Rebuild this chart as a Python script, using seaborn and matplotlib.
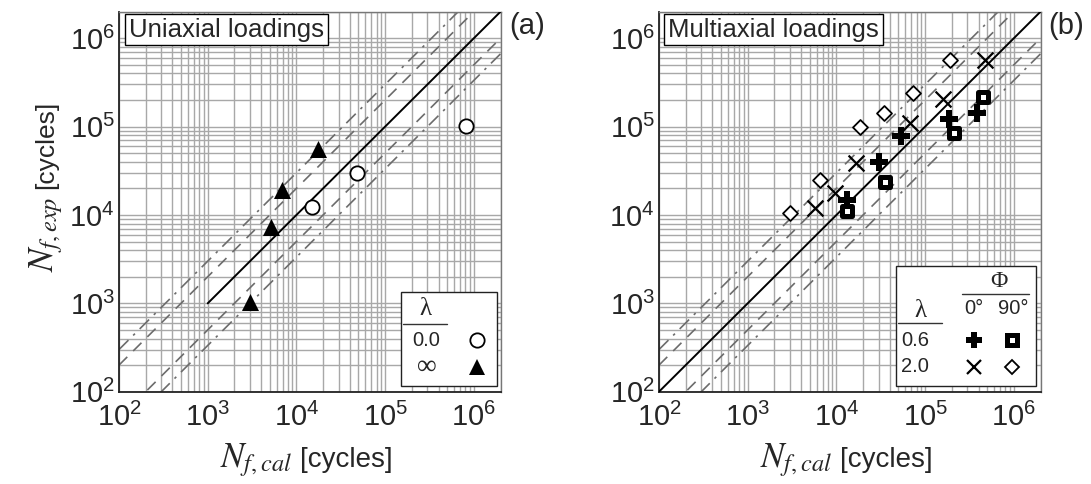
import numpy as np
import matplotlib
matplotlib.use("Agg")
import matplotlib.pyplot as plt
import seaborn as sns
from matplotlib.patches import Rectangle
from matplotlib.lines import Line2D
from matplotlib.ticker import LogLocator, NullFormatter

# ---------------- data ----------------
uni_lam0_cal = [1.5e4, 4.8e4, 8.2e5]
uni_lam0_exp = [1.23e4, 2.97e4, 1.02e5]
uni_laminf_cal = [3.0e3, 5.15e3, 6.9e3, 1.77e4]
uni_laminf_exp = [1.04e3, 7.3e3, 1.9e4, 5.6e4]

multi_l06_p0_cal = [1.30e4, 2.99e4, 5.35e4, 1.84e5, 3.85e5]
multi_l06_p0_exp = [1.48e4, 3.96e4, 7.9e4, 1.22e5, 1.42e5]
multi_l06_p90_cal = [1.33e4, 3.56e4, 2.14e5, 4.46e5]
multi_l06_p90_exp = [1.11e4, 2.35e4, 8.4e4, 2.14e5]
multi_l20_p0_cal = [5.8e3, 9.7e3, 1.67e4, 6.7e4, 1.59e5, 4.78e5]
multi_l20_p0_exp = [1.19e4, 1.77e4, 3.86e4, 1.09e5, 2.06e5, 5.7e5]
multi_l20_p90_cal = [3.0e3, 6.6e3, 1.86e4, 3.4e4, 7.4e4, 1.89e5]
multi_l20_p90_exp = [1.04e4, 2.46e4, 1.0e5, 1.42e5, 2.38e5, 5.7e5]

axis_limits = [1e2, 2e6]
diag_start = {"a": 1e3, "b": 1e2}
band_factors = [2, 3]

# ---------------- style ----------------
sns.set_style("white")
plt.rcParams["font.family"] = ["Liberation Sans", "DejaVu Sans"]
plt.rcParams["mathtext.fontset"] = "stix"
SERIF = ["Liberation Serif", "DejaVu Serif"]

W, H = 1091, 484
fig = plt.figure(figsize=(W / 100, H / 100), dpi=100)
AX_W, AX_H, AX_BOT = 381.5, 380.0, 391.7


def add_ax(x0):
    return fig.add_axes([x0 / W, 1 - AX_BOT / H, AX_W / W, AX_H / H])


axL = add_ax(119)
axR = add_ax(659)
X0 = {id(axL): 119, id(axR): 659}


def pa(ax, px, py):
    return ((px - X0[id(ax)]) / AX_W, (AX_BOT - py) / AX_H)


GRAY = "#6c6c6c"
styles = {2: (0, (7, 5)), 3: (0, (8, 4, 1.5, 4))}

for ax, key in ((axL, "a"), (axR, "b")):
    ax.set_xscale("log")
    ax.set_yscale("log")
    ax.set_xlim(*axis_limits)
    ax.set_ylim(*axis_limits)
    ax.set_axisbelow(True)
    ax.xaxis.set_major_locator(LogLocator(base=10, numticks=10))
    ax.yaxis.set_major_locator(LogLocator(base=10, numticks=10))
    ax.xaxis.set_minor_locator(LogLocator(base=10, subs=np.arange(2, 10), numticks=20))
    ax.yaxis.set_minor_locator(LogLocator(base=10, subs=np.arange(2, 10), numticks=20))
    ax.xaxis.set_minor_formatter(NullFormatter())
    ax.yaxis.set_minor_formatter(NullFormatter())
    ax.grid(True, which="both", color="#a8a8a8", lw=1.0)
    ax.tick_params(which="major", direction="in", length=5, width=1, labelsize=21,
                   color="#333333")
    ax.tick_params(axis="x", which="major", pad=8)
    ax.tick_params(axis="y", which="major", pad=3)
    ax.tick_params(which="minor", direction="in", length=3, width=0.8, color="#555555")
    for s in ("left", "bottom"):
        ax.spines[s].set_color("#222222")
        ax.spines[s].set_linewidth(1.3)
    for s in ("top", "right"):
        ax.spines[s].set_color("#777777")
        ax.spines[s].set_linewidth(1.0)

    bx = np.array(axis_limits)
    for k in band_factors:
        for f in (k, 1.0 / k):
            sns.lineplot(x=bx, y=bx * f, ax=ax, color=GRAY, lw=1.2,
                         linestyle=styles[k], zorder=2)
    dx = np.array([diag_start[key], axis_limits[1]])
    sns.lineplot(x=dx, y=dx, ax=ax, color="black", lw=1.4, zorder=3)

# ---------------- points ----------------
sns.scatterplot(x=uni_lam0_cal, y=uni_lam0_exp, ax=axL, marker="o", s=106,
                facecolor="white", edgecolor="black", linewidth=1.3, zorder=5)
sns.scatterplot(x=uni_laminf_cal, y=uni_laminf_exp, ax=axL, marker="^", s=150,
                color="black", edgecolor="black", linewidth=0, zorder=5)

sns.scatterplot(x=multi_l20_p90_cal, y=multi_l20_p90_exp, ax=axR, marker="D", s=58,
                facecolor="white", edgecolor="black", linewidth=1.3, zorder=5)
sns.scatterplot(x=multi_l20_p0_cal, y=multi_l20_p0_exp, ax=axR, marker="x", s=130,
                color="black", linewidth=1.6, zorder=5)
sns.scatterplot(x=multi_l06_p0_cal, y=multi_l06_p0_exp, ax=axR, marker="P", s=150,
                color="black", edgecolor="black", linewidth=0, zorder=5)
sns.scatterplot(x=multi_l06_p90_cal, y=multi_l06_p90_exp, ax=axR, marker="s", s=62,
                facecolor="white", edgecolor="black", linewidth=3.6, zorder=6)

for ax in (axL, axR):
    ax.set_xlabel("")
    ax.set_ylabel("")

# ---------------- titles / panel labels ----------------
for ax, txt, px in ((axL, "Uniaxial loadings", 129), (axR, "Multiaxial loadings", 668)):
    x, y = pa(ax, px, 29.5)
    ax.text(x, y, txt, transform=ax.transAxes, ha="left", va="center", fontsize=18.5,
            zorder=10, bbox=dict(boxstyle="square,pad=0.15", fc="white", ec="black", lw=1.0))

fig.text(509 / W, 1 - 26 / H, "(a)", fontsize=21, ha="left", va="center")
fig.text(1048 / W, 1 - 26 / H, "(b)", fontsize=21, ha="left", va="center")

# ---------------- axis labels ----------------
for off in (0, 540):
    fig.text((292 + off) / W, 1 - 467 / H, r"$N_{f,cal}$", fontsize=25,
             ha="right", va="baseline")
    fig.text((300 + off) / W, 1 - 467 / H, "[cycles]", fontsize=20,
             ha="left", va="baseline")

fig.text(53 / W, 1 - 197 / H, r"$N_{f,exp}$", fontsize=25, rotation=90,
         rotation_mode="anchor", ha="right", va="baseline")
fig.text(53 / W, 1 - 189 / H, "[cycles]", fontsize=19, rotation=90,
         rotation_mode="anchor", ha="left", va="baseline")


# ---------------- custom legends ----------------
def box(ax, x0, y0, x1, y1):
    a = pa(ax, x0, y1)
    b = pa(ax, x1, y0)
    ax.add_patch(Rectangle(a, b[0] - a[0], b[1] - a[1], transform=ax.transAxes,
                           fc="white", ec="#222222", lw=1.0, zorder=8))


def txt(ax, px, py, s, size=14.5, **kw):
    x, y = pa(ax, px, py)
    ax.text(x, y, s, transform=ax.transAxes, ha="center", va="center",
            fontsize=size, zorder=9, **kw)


def hline(ax, xa, xb, py):
    a = pa(ax, xa, py)
    b = pa(ax, xb, py)
    ax.add_line(Line2D([a[0], b[0]], [a[1], b[1]], transform=ax.transAxes,
                       color="#333333", lw=1.0, zorder=9))


def mark(ax, px, py, **kw):
    x, y = pa(ax, px, py)
    ax.add_line(Line2D([x], [y], transform=ax.transAxes, ls="none", zorder=9, **kw))


# left legend
box(axL, 400.7, 291.7, 497, 385.7)
txt(axL, 425, 309, "λ", size=18, family=SERIF)
hline(axL, 403, 447, 324)
txt(axL, 426, 340.5, "0.0")
txt(axL, 427, 367.5, "∞", size=20, family=SERIF)
mark(axL, 477, 340, marker="o", ms=10.3, mfc="white", mec="black", mew=1.3)
mark(axL, 477, 367, marker="^", ms=12, mfc="black", mec="black", mew=0)

# right legend
box(axR, 895.7, 265.7, 1035.7, 386)
txt(axR, 999, 281.5, "Φ", size=17, family=SERIF)
hline(axR, 961.7, 1029, 294.3)
txt(axR, 974.3, 309, "0°")
txt(axR, 1013, 309, "90°")
txt(axR, 920, 311, "λ", size=18, family=SERIF)
hline(axR, 898, 941.7, 323.3)
txt(axR, 915, 340, "0.6")
txt(axR, 915, 366.7, "2.0")
mark(axR, 974, 340, marker="P", ms=12, mfc="black", mec="black", mew=0)
mark(axR, 1012, 340, marker="s", ms=7.9, mfc="white", mec="black", mew=3.6)
mark(axR, 974, 367, marker="x", ms=10.5, mec="black", mew=1.6)
mark(axR, 1012, 367, marker="D", ms=7.6, mfc="white", mec="black", mew=1.3)

fig.savefig("out.png", dpi=100)
